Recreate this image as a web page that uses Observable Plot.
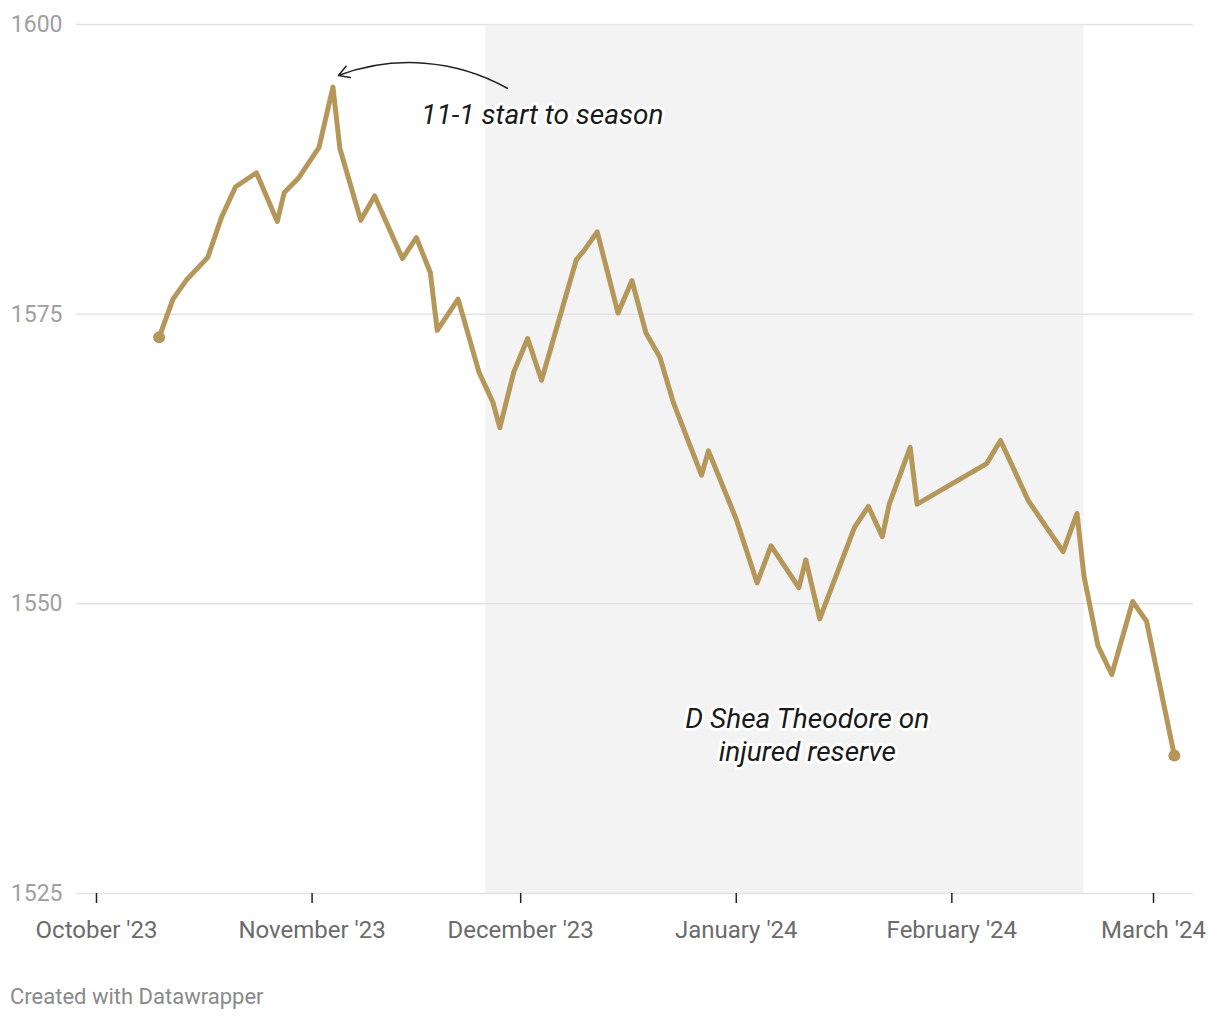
<!DOCTYPE html>
<html><head><meta charset="utf-8">
<script src="https://cdn.jsdelivr.net/npm/d3@7"></script>
<script src="https://cdn.jsdelivr.net/npm/@observablehq/plot@0.6"></script>
<style>
body{margin:0;background:#fff;font-family:Roboto,sans-serif;}
#chart{position:absolute;left:0;top:0;}
#caption{position:absolute;left:10px;top:984px;font-size:22px;color:#8a8a8a;font-family:Roboto,sans-serif;}
</style></head><body>
<div id="chart"></div>
<div id="caption">Created with Datawrapper</div>
<script>
const dates = ["2023-10-10","2023-10-12","2023-10-14","2023-10-17","2023-10-19","2023-10-21","2023-10-24","2023-10-27","2023-10-28","2023-10-30",
"2023-11-02","2023-11-04","2023-11-05","2023-11-08","2023-11-10","2023-11-14","2023-11-16","2023-11-18","2023-11-19","2023-11-22",
"2023-11-25","2023-11-27","2023-11-28","2023-11-30","2023-12-02","2023-12-04","2023-12-09","2023-12-10","2023-12-12","2023-12-15",
"2023-12-17","2023-12-19","2023-12-21","2023-12-23","2023-12-27","2023-12-28","2024-01-01","2024-01-04","2024-01-06","2024-01-10",
"2024-01-11","2024-01-13","2024-01-18","2024-01-20","2024-01-22","2024-01-23","2024-01-26","2024-01-27","2024-02-06","2024-02-08",
"2024-02-12","2024-02-17","2024-02-19","2024-02-20","2024-02-22","2024-02-24","2024-02-27","2024-02-29","2024-03-04"];
const ratings = [1573.0,1576.3,1578.0,1579.9,1583.4,1586.0,1587.2,1583.0,1585.5,1586.7,
1589.4,1594.6,1589.3,1583.1,1585.2,1579.8,1581.6,1578.6,1573.6,1576.3,
1570.0,1567.4,1565.2,1570.0,1572.9,1569.3,1579.7,1580.4,1582.1,1575.1,
1577.9,1573.4,1571.3,1567.3,1561.1,1563.2,1557.3,1551.8,1555.0,1551.4,
1553.8,1548.7,1556.6,1558.4,1555.8,1558.6,1563.5,1558.6,1562.1,1564.1,
1558.9,1554.5,1557.8,1552.4,1546.4,1543.9,1550.2,1548.5,1536.9];
const yTicks = [1525, 1550, 1575, 1600];
const xTicks = ["2023-10-01","2023-11-01","2023-12-01","2024-01-01","2024-02-01","2024-03-01"];
const xTickLabels = ["October '23","November '23","December '23","January '24","February '24","March '24"];
const xDomain = ["2023-09-28T03:00Z","2024-03-06T18:00Z"];
const shade = [{start:"2023-11-26", end:"2024-02-20"}];
const arrowNote = [{x1:"2023-11-29T02:00Z", y1:1594.5, x2:"2023-11-04T19:00Z", y2:1595.6}];
const textNotes = [
  {x:"2023-12-04T03:00Z", y:1592.3, text:"11-1 start to season"},
  {x:"2024-01-11T05:00Z", y:1538.75, text:"D Shea Theodore on\ninjured reserve"}
];

const data = dates.map((d,i)=>({date:new Date(d), rating:ratings[i]}));
const ends = [data[0], data[data.length-1]];
const lineColor = "#b5975a";

const chart = Plot.plot({
  width: 1220,
  height: 960,
  marginTop: 24,
  marginBottom: 67,
  marginLeft: 76,
  marginRight: 27,
  style: {fontFamily: "Roboto, sans-serif", background: "#fff"},
  x: {type: "utc", domain: xDomain.map(d=>new Date(d))},
  y: {domain: [1525, 1600]},
  marks: [
    Plot.rectX(shade, {x1: d=>new Date(d.start), x2: d=>new Date(d.end), fill: "#f3f3f3"}),
    Plot.ruleY(yTicks, {stroke: "#e3e3e3", strokeWidth: 1.5}),
    Plot.axisY({ticks: yTicks, tickFormat: d=>String(d), tickSize: 0, tickPadding: 14, fontSize: 23, fill: "#a0a0a0", label: null}),
    Plot.axisX({ticks: xTicks.map(d=>new Date(d)), tickFormat: (d,i)=>xTickLabels[i], tickSize: 10, tickPadding: 17, fontSize: 24, fill: "#6b6b6b", stroke: "#222", strokeWidth: 1.5, label: null}),
    Plot.line(data, {x: "date", y: "rating", stroke: lineColor, strokeWidth: 5, strokeLinejoin: "round", strokeLinecap: "round"}),
    Plot.dot(ends, {x: "date", y: "rating", r: 6, fill: lineColor}),
    Plot.arrow(arrowNote, {x1: d=>new Date(d.x1), y1: "y1", x2: d=>new Date(d.x2), y2: "y2", bend: -25, stroke: "#222", strokeWidth: 1.5, headLength: 12}),
    Plot.text(textNotes, {x: d=>new Date(d.x), y: "y", text: "text", fontSize: 28, fontStyle: "italic", fill: "#1a1a1a", stroke: "#fff", strokeWidth: 6, lineHeight: 1.18, textAnchor: "middle", lineAnchor: "middle"})
  ]
});
document.getElementById("chart").appendChild(chart);
</script>
</body></html>
